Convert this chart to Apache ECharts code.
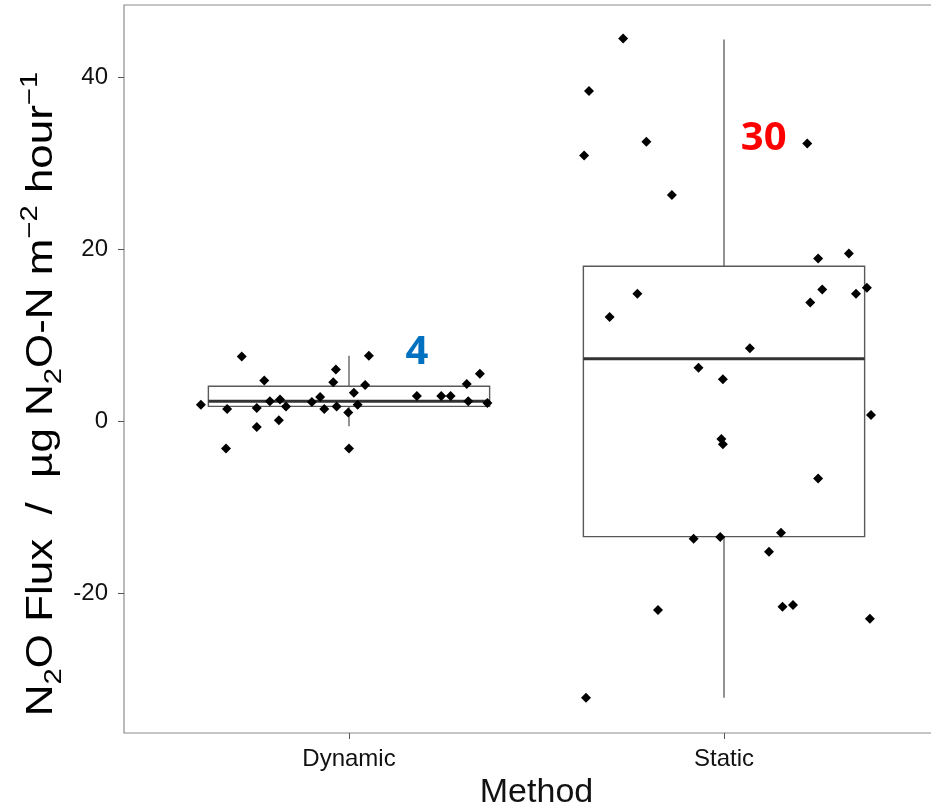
<!DOCTYPE html>
<html>
<head>
<meta charset="utf-8">
<script src="https://cdn.jsdelivr.net/npm/echarts@6/dist/echarts.min.js"></script>
<style>
  html, body { margin: 0; padding: 0; background: #fff; }
  #root { width: 931px; height: 806px; }
</style>
</head>
<body>
<div id="root"></div>
<script>
// categories on the x axis (positions 1 and 2)
const methods = ['Dynamic', 'Static']
const yTicks = [-20, 0, 20, 40]

// box statistics: [position, min, Q1, median, Q3, max]
const boxStats = [
  [1, -0.6, 1.7, 2.3, 4.05, 7.6],
  [2, -32.2, -13.45, 7.25, 18.0, 44.4]
]

// jittered points: horizontal offset from the category centre, and flux value
const dynOffset = [-0.395, -0.286, -0.325, -0.328, -0.246, -0.246, -0.226, -0.211, -0.187, -0.184,
  -0.168, -0.099, -0.077, -0.066, -0.035, -0.042, -0.033, -0.002, 0.000, 0.013,
  0.023, 0.043, 0.053, 0.181, 0.246, 0.271, 0.314, 0.318, 0.349, 0.369]
const dynFlux = [1.9, 7.5, 1.4, -3.2, 1.5, -0.7, 4.7, 2.3, 0.1, 2.5,
  1.7, 2.2, 2.8, 1.4, 6.0, 4.5, 1.7, 1.0, -3.2, 3.3,
  1.9, 4.2, 7.6, 2.9, 2.9, 2.9, 4.3, 2.3, 5.5, 2.1]

const staOffset = [-0.269, -0.360, -0.207, -0.373, -0.139, 0.222, 0.251, 0.333, -0.231, -0.305,
  0.262, 0.230, 0.352, 0.381, 0.069, -0.068, -0.003, 0.392, -0.007, -0.003,
  0.251, -0.081, -0.010, 0.152, 0.120, -0.176, 0.156, 0.184, 0.389, -0.368]
const staFlux = [44.5, 38.4, 32.5, 30.9, 26.3, 32.3, 18.9, 19.5, 14.8, 12.1,
  15.3, 13.8, 14.8, 15.5, 8.45, 6.2, 4.85, 0.7, -2.1, -2.7,
  -6.7, -13.7, -13.5, -13.0, -15.2, -22.0, -21.6, -21.4, -23.0, -32.2]

// annotations written on the plot
const annoText = ['4', '30']
const annoX = [1.181, 2.106]
const annoY = [8.0, 32.8]

const boxWidth = 0.75
const annoColors = ['#0070C0', '#FF0000']

const points = [
  ...dynOffset.map((d, i) => [1 + d, dynFlux[i]]),
  ...staOffset.map((d, i) => [2 + d, staFlux[i]])
]

const chart = echarts.init(document.getElementById('root'))

const font = '"Liberation Sans", Arial, sans-serif'
const ink = '#111'

const option = {
  animation: false,
  grid: {
    left: 124,
    right: -18,
    top: 5,
    bottom: 73,
    show: true,
    borderColor: '#8c8c8c',
    borderWidth: 1.2,
    outerBoundsMode: 'none'
  },
  xAxis: {
    type: 'value',
    min: 0.4,
    max: 2.6,
    name: 'Method',
    nameLocation: 'middle',
    nameGap: 40,
    nameTextStyle: { fontFamily: font, fontSize: 34, color: ink },
    splitLine: { show: false },
    axisLine: { show: false, onZero: false },
    axisTick: { show: true, length: 6, customValues: [1, 2], lineStyle: { color: '#555' } },
    axisLabel: {
      customValues: [1, 2],
      formatter: v => methods[Math.round(v) - 1],
      fontFamily: font, fontSize: 24, color: ink, margin: 14
    }
  },
  yAxis: {
    type: 'value',
    min: -36.3,
    max: 48.4,
    splitLine: { show: false },
    axisLine: { show: false, onZero: false },
    axisTick: { show: true, length: 6, customValues: yTicks, lineStyle: { color: '#555' } },
    axisLabel: {
      customValues: yTicks,
      fontFamily: font, fontSize: 24, color: ink, margin: 16
    }
  },
  graphic: [{
    type: 'text',
    x: 42,
    y: 394,
    rotation: Math.PI / 2,
    scaleX: 1.22,
    style: {
      text: '{n|N}{s|2}{n|O Flux  /  µg N}{s|2}{n|O-N m}{p|−2}{n| hour}{p|−1}',
      align: 'center',
      verticalAlign: 'middle',
      rich: {
        n: { fontFamily: font, fontSize: 36, color: ink, lineHeight: 48, verticalAlign: 'middle' },
        s: { fontFamily: font, fontSize: 24, color: ink, lineHeight: 48, verticalAlign: 'bottom' },
        p: { fontFamily: font, fontSize: 24, color: ink, lineHeight: 48, verticalAlign: 'top' }
      }
    }
  }],
  series: [
    {
      type: 'custom',
      data: boxStats,
      encode: { x: 0, y: [1, 2, 3, 4, 5] },
      renderItem(params, api) {
        const x = api.value(0)
        const q1L = api.coord([x - boxWidth / 2, api.value(2)])
        const q3R = api.coord([x + boxWidth / 2, api.value(4)])
        const top = api.coord([x, api.value(5)])
        const bot = api.coord([x, api.value(1)])
        const medY = api.coord([x, api.value(3)])[1]
        const grey = '#595959'
        return {
          type: 'group',
          children: [
            { type: 'line', shape: { x1: top[0], y1: top[1], x2: top[0], y2: q3R[1] }, style: { stroke: grey, lineWidth: 1.3 } },
            { type: 'line', shape: { x1: bot[0], y1: bot[1], x2: bot[0], y2: q1L[1] }, style: { stroke: grey, lineWidth: 1.3 } },
            { type: 'rect', shape: { x: q1L[0], y: q3R[1], width: q3R[0] - q1L[0], height: q1L[1] - q3R[1] }, style: { fill: 'none', stroke: grey, lineWidth: 1.4 } },
            { type: 'line', shape: { x1: q1L[0], y1: medY, x2: q3R[0], y2: medY }, style: { stroke: '#333', lineWidth: 3 } }
          ]
        }
      }
    },
    {
      type: 'scatter',
      data: points,
      symbol: 'diamond',
      symbolSize: 10,
      itemStyle: { color: '#000', opacity: 1 }
    },
    {
      type: 'scatter',
      symbolSize: 0,
      itemStyle: { opacity: 1 },
      data: annoText.map((t, i) => ({
        value: [annoX[i], annoY[i]],
        label: { color: annoColors[i] }
      })),
      label: {
        show: true,
        position: 'inside',
        formatter: p => annoText[p.dataIndex],
        fontFamily: '"Noto Sans", "Open Sans", sans-serif',
        fontWeight: 'bold',
        fontSize: 40
      }
    }
  ]
}

chart.setOption(option)
</script>
</body>
</html>
